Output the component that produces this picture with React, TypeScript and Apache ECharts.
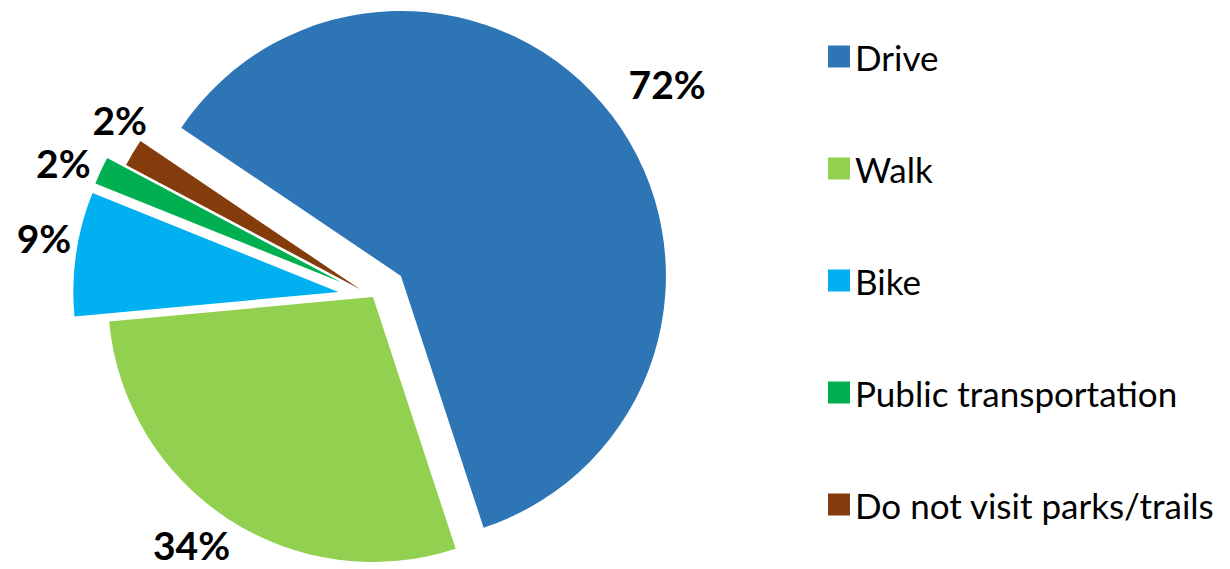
import React, { useEffect, useRef } from "react";
import * as echarts from "echarts";

// Categories (legend order, clockwise slice order)
const categories = ["Drive", "Walk", "Bike", "Public transportation", "Do not visit parks/trails"];
// Survey percentages (slice sizes and labels)
const percentValues = [72, 34, 9, 2, 2];
const colors = ["#2E75B6", "#92D050", "#00B0F0", "#00B050", "#843C0C"];
// Which slices are pulled out: 0 = not, 1 = far, 2 = near
const explodeGroup = [1, 0, 1, 1, 2];
// label line lengths (hidden lines) used to place the outside labels
const labelLen1 = [53, 32, 108, 18, 64];
const labelLen2 = [-31, -25, -107, -11, -74];

const FONT = "Lato, 'Open Sans', sans-serif";

export default function App() {
  const ref = useRef<HTMLDivElement>(null);
  useEffect(() => {
    if (!ref.current) return;
    const chart = echarts.init(ref.current, undefined, { renderer: "svg" });

    const makeSeries = (group: number, offset: number, showWalk: boolean) => ({
      type: "pie",
      name: "g" + group,
      center: [373, 297],
      radius: 265,
      startAngle: 146,
      clockwise: true,
      selectedMode: "multiple",
      selectedOffset: offset,
      avoidLabelOverlap: false,
      emphasis: { disabled: true },
      silent: true,
      z: group === 2 ? 3 : 2,
      data: categories.map((name, i) => {
        const visible = explodeGroup[i] === group || (showWalk && explodeGroup[i] === 0);
        return {
          name,
          value: percentValues[i],
          selected: visible && explodeGroup[i] === group && group !== 0,
          itemStyle: { color: visible ? colors[i] : "rgba(0,0,0,0)" },
          label: {
            show: visible,
            position: "outside",
            formatter: percentValues[i] + "%",
            color: "#000",
            fontFamily: FONT,
            fontWeight: "bold",
            fontSize: 39,
          },
          labelLine: { show: false, length: labelLen1[i], length2: labelLen2[i] },
        };
      }),
    });

    chart.setOption({
      animation: false,
      backgroundColor: "#ffffff",
      legend: {
        orient: "vertical",
        left: 823,
        top: 34,
        icon: "rect",
        itemWidth: 22,
        itemHeight: 22,
        itemGap: 77,
        selectedMode: false,
        textStyle: { fontFamily: FONT, fontSize: 35, color: "#000", lineHeight: 35 },
        data: categories.map((name, i) => ({ name, itemStyle: { color: colors[i] } })),
      },
      series: [makeSeries(1, 35, true), makeSeries(2, 15, false)],
    });
    return () => chart.dispose();
  }, []);
  return (
    <div
      ref={ref}
      style={{ position: "absolute", left: 0, top: 0, width: 1230, height: 569 }}
    />
  );
}
